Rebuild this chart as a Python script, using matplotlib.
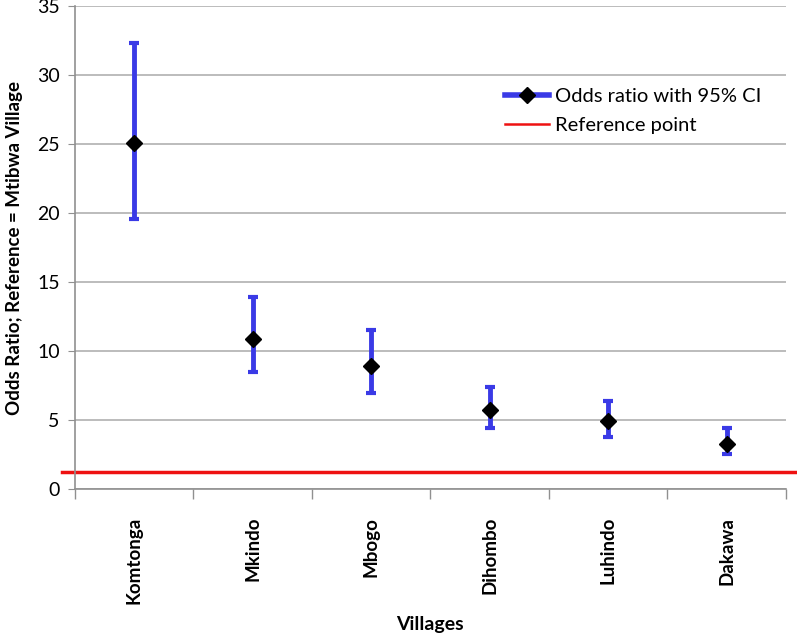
import matplotlib
matplotlib.use("Agg")
import matplotlib.pyplot as plt
from matplotlib.lines import Line2D
import numpy as np

villages = ["Komtonga", "Mkindo", "Mbogo", "Dihombo", "Luhindo", "Dakawa"]
odds_ratio = [25.1, 10.9, 8.9, 5.75, 4.9, 3.3]
ci_lower = [19.55, 8.5, 6.95, 4.45, 3.8, 2.55]
ci_upper = [32.3, 13.9, 11.5, 7.4, 6.35, 4.4]
reference_value = 1.25

plt.rcParams["font.family"] = ["Lato", "DejaVu Sans"]

fig = plt.figure(figsize=(7.97, 6.36), dpi=100)
ax = fig.add_axes([0.094, 0.231, 0.892, 0.7594])

x = np.arange(len(villages))
or_arr = np.array(odds_ratio)
yerr = [or_arr - np.array(ci_lower), np.array(ci_upper) - or_arr]

blue = "#3a3ae6"
ax.errorbar(x, or_arr, yerr=yerr, fmt="D", color=blue, ecolor=blue,
            elinewidth=3.5, capsize=3.5, capthick=3, mfc="black",
            mec="black", ms=8, zorder=3)

# reference line runs a little past the axes like the original
ax.plot([-0.61, 5.59], [reference_value, reference_value], color="#ee1111",
        lw=2.5, clip_on=False, zorder=2)

ax.set_xlim(-0.5, len(villages) - 0.5)
ax.set_ylim(0, 35)
ax.set_yticks(range(0, 36, 5))
ax.yaxis.grid(True, color="#b0b0b0", lw=1.2)
ax.set_axisbelow(True)

ax.set_xticks(x)
ax.set_xticklabels(villages, rotation=90, fontweight="bold", fontsize=13.5,
                   va="top", ha="center")
ax.set_xticks(np.arange(-0.5, len(villages)), minor=True)
ax.tick_params(axis="x", which="major", length=0, pad=20)
ax.tick_params(axis="x", which="minor", length=7, color="#909090", width=1)
ax.tick_params(axis="y", length=5, color="#909090", labelsize=14, pad=6)

for s in ["top", "right"]:
    ax.spines[s].set_visible(False)
for s in ["left", "bottom"]:
    ax.spines[s].set_color("#909090")
    ax.spines[s].set_linewidth(1.2)

ax.set_xlabel("Villages", fontweight="bold", fontsize=14)
ax.xaxis.set_label_coords(0.5, -0.262)
ax.set_ylabel("Odds Ratio; Reference = Mtibwa Village", fontweight="bold",
              fontsize=13.5, labelpad=10)

handles = [
    Line2D([], [], color=blue, lw=4, marker="D", mfc="black", mec="black",
           ms=8),
    Line2D([], [], color="#ee1111", lw=1.8),
]
ax.legend(handles, ["Odds ratio with 95% CI", "Reference point"],
          loc="upper left", bbox_to_anchor=(0.605, 0.83), frameon=False,
          fontsize=14.5, handlelength=2.2, handletextpad=0.3,
          labelspacing=0.6, borderaxespad=0, borderpad=0)

fig.savefig("out.png", dpi=100)
